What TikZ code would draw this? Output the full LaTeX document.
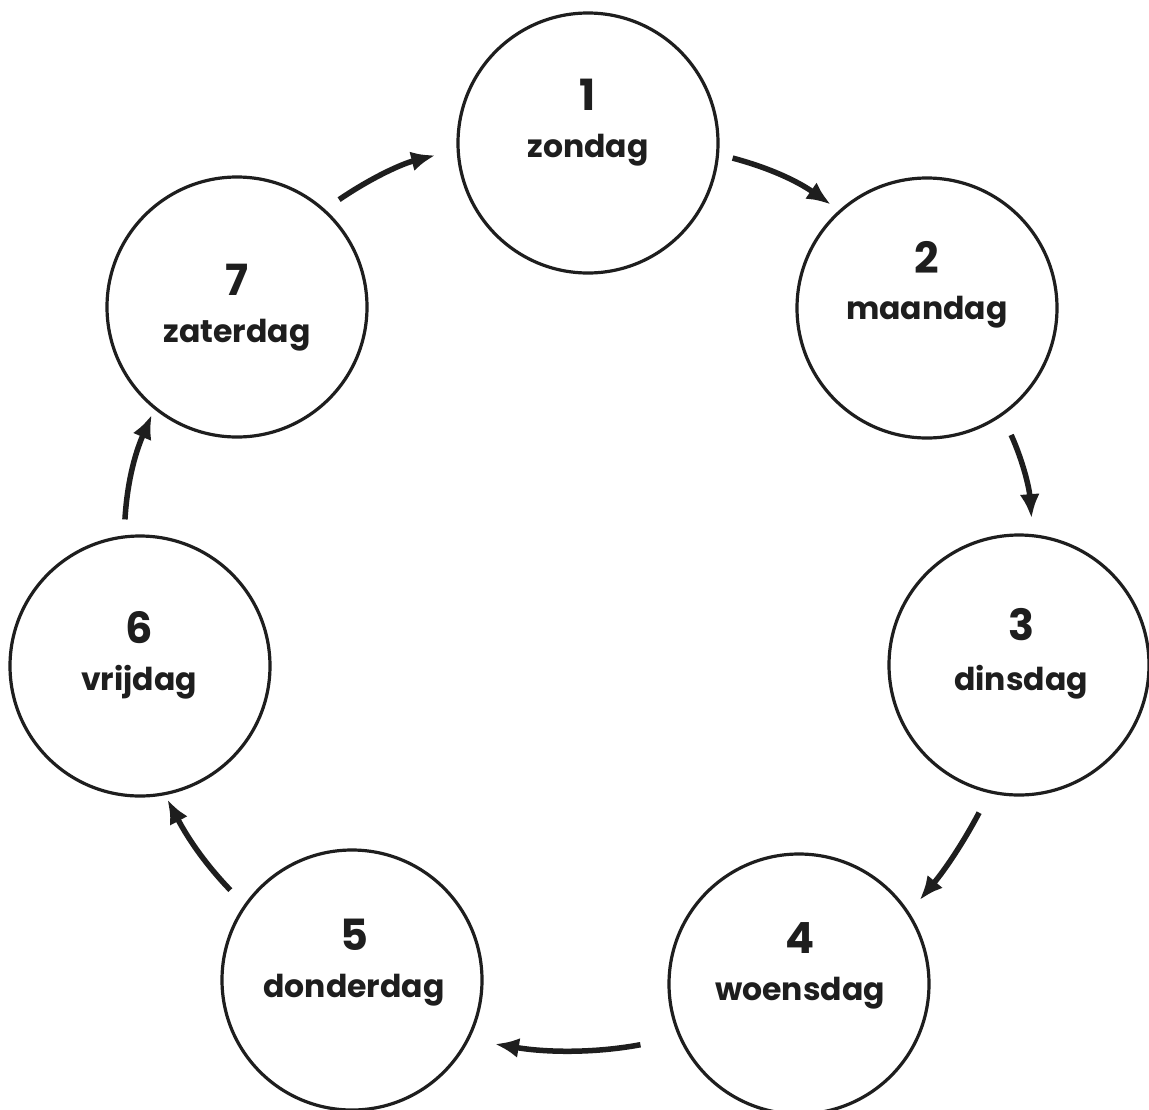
\documentclass[tikz,border=0pt]{standalone}
\usepackage{fontspec}
\setmainfont{Poppins}
\usetikzlibrary{arrows.meta}
\definecolor{ink}{HTML}{1E1E1E}
\begin{document}
\begin{tikzpicture}[x=1pt,y=-1pt,
  day/.style={circle,draw=ink,line width=3.2pt,minimum size=260pt,inner sep=0pt},
  num/.style={anchor=base,font=\fontsize{43}{43}\selectfont\bfseries,text=ink,inner sep=0pt},
  word/.style={anchor=base,font=\fontsize{31.5}{31.5}\selectfont\bfseries,text=ink,inner sep=0pt},
  arr/.style={-{Latex[length=24pt,width=20pt]},line width=5.5pt,draw=ink}]
\useasboundingbox (0,0) rectangle (1149,1109);
\fill[white] (0,0) rectangle (1149,1109);

\node[day] (c1) at (588,143) {};
\node[day] (c2) at (927,308) {};
\node[day] (c3) at (1019,665) {};
\node[day] (c4) at (799,984) {};
\node[day] (c5) at (352,980) {};
\node[day] (c6) at (140,666) {};
\node[day] (c7) at (237,307) {};

\node[num] (n1) at (588,110) {1};
\node[word] (w1) at (588,157) {zondag};
\node[num] (n2) at (927,273) {2};
\node[word] (w2) at (927,319) {maandag};
\node[num] (n3) at (1021,640) {3};
\node[word] (w3) at (1021,690) {dinsdag};
\node[num] (n4) at (800,953) {4};
\node[word] (w4) at (800,1000) {woensdag};
\node[num] (n5) at (354,950) {5};
\node[word] (w5) at (354,997) {donderdag};
\node[num] (n6) at (139,643) {6};
\node[word] (w6) at (139,690) {vrijdag};
\node[num] (n7) at (237,295) {7};
\node[word] (w7) at (237,342) {zaterdag};

\draw[arr,shorten <=14pt,shorten >=10pt] (c1.-5) to[bend left=10] (c2.132);
\draw[arr,shorten <=21pt,shorten >=16pt] (c2.-55) to[bend left=10] (c3.84);
\draw[arr,shorten <=22pt,shorten >=16pt] (c3.257) to[bend left=6] (c4.33);
\draw[arr,shorten <=39pt,shorten >=26pt] (c4.204) to[bend left=10] (c5.-27);
\draw[arr,shorten <=20pt,shorten >=5pt] (c5.145) to[bend left=8] (c6.-79);
\draw[arr,shorten <=16pt,shorten >=6pt] (c6.97) to[bend left=10] (c7.231);
\draw[arr,shorten <=17pt,shorten >=22pt] (c7.48) to[bend left=10] (c1.183);
\end{tikzpicture}
\end{document}
